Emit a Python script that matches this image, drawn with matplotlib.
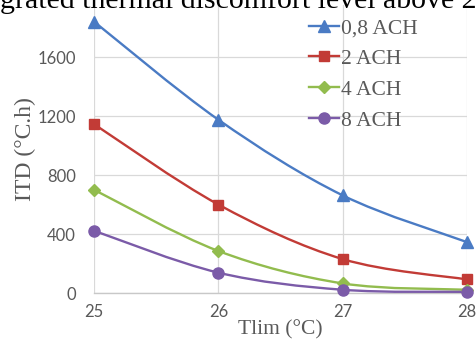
import matplotlib
matplotlib.use('Agg')
import matplotlib.pyplot as plt
from matplotlib.path import Path
from matplotlib.patches import PathPatch
from matplotlib.lines import Line2D

# ==========================================
# DATA
# ==========================================
tlim = [25, 26, 27, 28]
itd_08 = [1840, 1175, 662, 345]
itd_2 = [1145, 600, 230, 92]
itd_4 = [700, 285, 65, 22]
itd_8 = [422, 138, 22, 8]

labels = ['0,8 ACH', '2 ACH', '4 ACH', '8 ACH']
colors = ['#4A7BC4', '#C23B36', '#92BC4E', '#7B5BA8']
markers = ['^', 's', 'D', 'o']
marker_sizes = [8, 7, 6, 8]

yticks = [0, 400, 800, 1200, 1600]
xticks = [25, 26, 27, 28]

SERIF = 'Liberation Serif'
SANS = 'Lato'
TXT = '#595959'
GRID = '#d9d9d9'


def smooth_path(xs, ys):
    # Excel-like smoothed line: cubic Bezier segments (Catmull-Rom tangents)
    n = len(xs)
    verts = [(xs[0], ys[0])]
    codes = [Path.MOVETO]
    for i in range(n - 1):
        x0, y0 = (xs[i - 1], ys[i - 1]) if i > 0 else (xs[i], ys[i])
        x1, y1 = xs[i], ys[i]
        x2, y2 = xs[i + 1], ys[i + 1]
        x3, y3 = (xs[i + 2], ys[i + 2]) if i + 2 < n else (xs[i + 1], ys[i + 1])
        c1 = (x1 + (x2 - x0) / 6.0, y1 + (y2 - y0) / 6.0)
        c2 = (x2 - (x3 - x1) / 6.0, y2 - (y3 - y1) / 6.0)
        verts += [c1, c2, (x2, y2)]
        codes += [Path.CURVE4] * 3
    return Path(verts, codes)


fig = plt.figure(figsize=(4.76, 3.43), dpi=100)
ax = fig.add_axes([94 / 476, 1 - 293 / 343, (467 - 94) / 476, (293 - 5.4) / 343])

series = [itd_08, itd_2, itd_4, itd_8]
handles = []
for vals, c, m, ms, lab in zip(series, colors, markers, marker_sizes, labels):
    ax.add_patch(PathPatch(smooth_path(tlim, vals), facecolor='none',
                           edgecolor=c, linewidth=1.7, zorder=3))
    ax.plot(tlim, vals, linestyle='none', marker=m, markersize=ms,
            color=c, zorder=4, clip_on=False)
    handles.append(Line2D([], [], color=c, linewidth=1.7, marker=m,
                          markersize=ms))

ax.set_xlim(25, 28)
ax.set_ylim(0, 1950)
ax.set_xticks(xticks)
ax.set_yticks(yticks)
ax.grid(True, color=GRID, linewidth=0.9)
ax.set_axisbelow(True)
for s in ['top', 'right', 'left']:
    ax.spines[s].set_visible(False)
ax.spines['bottom'].set_color('#c8c8c8')
ax.spines['bottom'].set_linewidth(1.0)
ax.tick_params(length=0, labelsize=12, labelcolor=TXT)
ax.tick_params(axis='y', pad=13)
ax.tick_params(axis='x', pad=8)
for t in ax.get_xticklabels() + ax.get_yticklabels():
    t.set_fontfamily(SANS)

ax.set_xlabel('Tlim (°C)', fontfamily=SERIF, fontsize=15.5, color=TXT, va='center')
ax.xaxis.set_label_coords(0.5, -0.128)
ax.set_ylabel('ITD (°C.h)', fontfamily=SERIF, fontsize=17, color=TXT, va='center')
ax.yaxis.set_label_coords(-0.185, 0.5)

leg = ax.legend(handles, labels, loc='upper left', bbox_to_anchor=(309 / 476, 1 - 18 / 343),
                bbox_transform=fig.transFigure, frameon=False, numpoints=1,
                handlelength=1.4, handletextpad=0.1, labelspacing=0.5,
                borderpad=0, borderaxespad=0,
                prop={'family': SERIF, 'size': 15.5})
for t in leg.get_texts():
    t.set_color(TXT)

# caption text cut off at top of the picture
fig.text(0.0, 1 - 8 / 343, 'grated thermal discomfort level above 2',
         fontfamily=SERIF, fontsize=21.5, color='black', va='baseline', ha='left')

fig.savefig('out.png', dpi=100)
